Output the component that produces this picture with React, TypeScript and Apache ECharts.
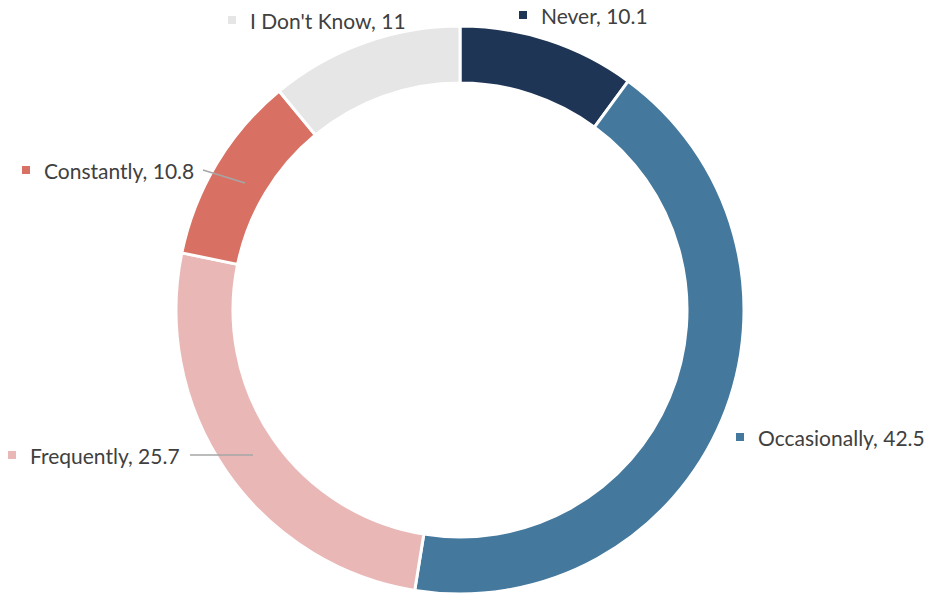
import React, { useEffect, useRef } from "react";
import * as echarts from "echarts";

const categories = ["Never", "Occasionally", "Frequently", "Constantly", "I Don't Know"];
const values = [10.1, 42.5, 25.7, 10.8, 11];
const colors = ["#1f3556", "#44789d", "#e9b8b6", "#d87163", "#e7e6e7"];

// label anchor (left of marker, vertical middle)
const labelPos: number[][] = [
  [519, 15],
  [736, 437],
  [8, 455],
  [22, 170],
  [228, 20],
];
// leader lines drawn on top of the ring
const leaderLines: number[][][] = [
  [[190, 455], [253, 455]],
  [[203, 170], [245, 183]],
];

export default function App() {
  const ref = useRef<HTMLDivElement>(null);
  useEffect(() => {
    if (!ref.current) return;
    const chart = echarts.init(ref.current, undefined, { renderer: "svg" });
    chart.setOption({
      animation: false,
      backgroundColor: "#ffffff",
      graphic: leaderLines.map((pts) => ({
        type: "line",
        z: 100,
        shape: { x1: pts[0][0], y1: pts[0][1], x2: pts[1][0], y2: pts[1][1] },
        style: { stroke: "#a6a6a6", lineWidth: 1.5 },
      })),
      series: [
        {
          type: "pie",
          center: [460, 310],
          radius: [227, 284],
          startAngle: 90,
          clockwise: true,
          avoidLabelOverlap: false,
          itemStyle: { borderColor: "#ffffff", borderWidth: 3 },
          emphasis: { disabled: true },
          label: {
            show: true,
            position: "outside",
            formatter: (p: any) => `{sq|}{t|${p.name}, ${p.value}}`,
            rich: {
              sq: { width: 8, height: 8, backgroundColor: "inherit" },
              t: {
                fontFamily: "Lato, 'Open Sans', sans-serif",
                fontSize: 21,
                color: "#404040",
                padding: [0, 0, 0, 14],
              },
            },
          },
          labelLine: { show: false },
          labelLayout: (params: any) => {
            const i = params.dataIndex;
            return {
              x: labelPos[i][0],
              y: labelPos[i][1],
              align: "left",
              verticalAlign: "middle",
            };
          },
          data: categories.map((name, i) => ({
            name,
            value: values[i],
            itemStyle: { color: colors[i] },
            label: {
              rich: { sq: { backgroundColor: colors[i] } },
            },
          })),
        },
      ],
    });
    return () => chart.dispose();
  }, []);
  return (
    <div
      ref={ref}
      style={{ position: "fixed", left: 0, top: 0, width: 928, height: 596 }}
    />
  );
}
